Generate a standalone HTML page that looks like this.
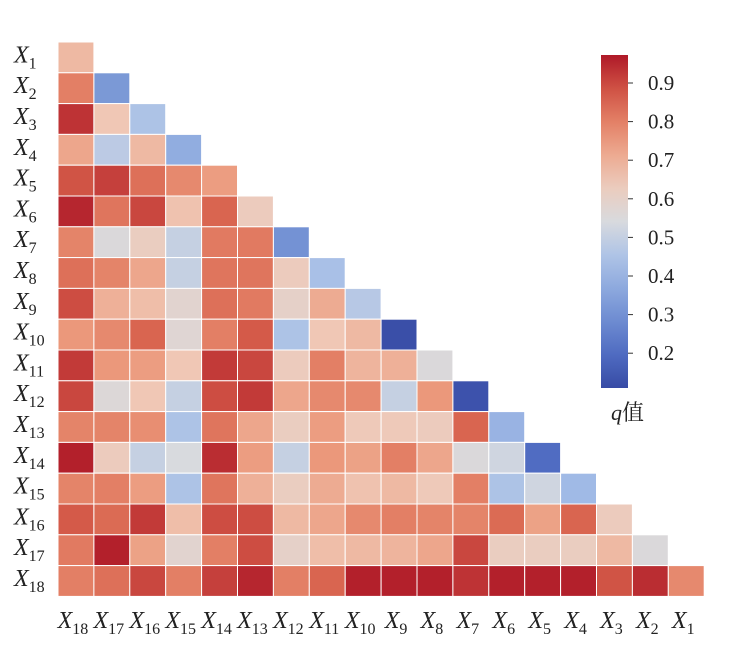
<!DOCTYPE html>
<html><head><meta charset="utf-8"><style>
html,body{margin:0;padding:0;background:#fff;width:738px;height:665px;overflow:hidden}
svg text{font-family:"Liberation Serif","Noto Serif CJK SC",serif;fill:#222}
</style></head><body>
<svg id="s" width="738" height="665" xmlns="http://www.w3.org/2000/svg">
<defs><linearGradient id="cb" x1="0" y1="1" x2="0" y2="0"></linearGradient></defs>
</svg>
<script>
const V=[[0.68],[0.8,0.32],[0.93,0.65,0.45],[0.72,0.48,0.68,0.38],
[0.88,0.91,0.83,0.78,0.74],[0.95,0.82,0.9,0.66,0.85,0.63],
[0.79,0.55,0.62,0.5,0.81,0.81,0.3],[0.83,0.79,0.72,0.5,0.82,0.82,0.63,0.44],
[0.89,0.7,0.67,0.58,0.83,0.81,0.6,0.71,0.47],[0.75,0.78,0.85,0.57,0.8,0.87,0.45,0.65,0.68,0.12],
[0.92,0.75,0.74,0.65,0.92,0.9,0.63,0.8,0.69,0.7,0.55],[0.9,0.56,0.65,0.5,0.89,0.92,0.72,0.78,0.78,0.5,0.75,0.13],
[0.79,0.79,0.77,0.45,0.82,0.72,0.62,0.74,0.64,0.64,0.63,0.85,0.4],
[0.96,0.63,0.5,0.54,0.94,0.74,0.5,0.75,0.73,0.8,0.72,0.55,0.52,0.2],
[0.79,0.8,0.74,0.45,0.82,0.7,0.62,0.71,0.66,0.68,0.64,0.8,0.45,0.52,0.42],
[0.87,0.84,0.92,0.67,0.89,0.89,0.68,0.72,0.78,0.8,0.79,0.79,0.84,0.73,0.85,0.63],
[0.81,0.96,0.73,0.58,0.8,0.89,0.6,0.67,0.68,0.69,0.72,0.9,0.62,0.62,0.62,0.68,0.55],
[0.8,0.83,0.9,0.8,0.91,0.95,0.8,0.85,0.96,0.96,0.96,0.93,0.96,0.96,0.96,0.88,0.94,0.78]];
const S=[[0,[55,75,165]],[0.125,[85,115,200]],[0.25,[125,155,215]],[0.375,[165,190,232]],[0.5,[216,218,222]],[0.625,[240,200,182]],[0.75,[235,150,120]],[0.875,[215,95,75]],[1,[175,25,40]]];
function col(t){t=Math.max(0,Math.min(1,t));for(let i=1;i<S.length;i++){if(t<=S[i][0]){const a=S[i-1],b=S[i],f=(t-a[0])/(b[0]-a[0]);return 'rgb('+a[1].map((c,k)=>Math.round(c+(b[1][k]-c)*f)).join(',')+')';}}}
const vmin=0.11,vmax=0.97;
const s=document.getElementById('s');let h='';
const x0=58,y0=42,w=35.9,hh=30.8;
for(let r=0;r<18;r++)for(let c=0;c<=r;c++){
h+=`<rect x="${x0+c*w}" y="${y0+r*hh}" width="${w}" height="${hh}" fill="${col((V[r][c]-vmin)/(vmax-vmin))}" stroke="#fff" stroke-width="1"/>`;}
function lab(x,y,n,anchor){return `<text x="${x}" y="${y}" font-size="24" font-style="italic" text-anchor="${anchor}">X<tspan font-size="16" font-style="normal" dy="6">${n}</tspan></text>`;}
for(let r=0;r<18;r++){h+=lab(14,y0+r*hh+hh/2+5,r+1,'start');}
for(let c=0;c<18;c++){h+=`<text x="${x0+c*w+w/2-3}" y="628" font-size="24" font-style="italic" text-anchor="middle">X<tspan font-size="16" font-style="normal" dy="6">${18-c}</tspan></text>`;}
let g='';for(let i=0;i<=10;i++){g+=`<stop offset="${i/10}" stop-color="${col(i/10)}"/>`;}
document.getElementById('cb').innerHTML=g;
h+=`<rect x="601" y="55" width="27" height="333" fill="url(#cb)"/>`;
for(let k=2;k<=9;k++){const y=83+(0.9-k/10)*386;h+=`<line x1="628" y1="${y}" x2="633" y2="${y}" stroke="#333"/><text x="648" y="${y+7}" font-size="21">0.${k}</text>`;}
h+=`<text x="611" y="420" font-size="22"><tspan font-style="italic">q</tspan>值</text>`;
s.innerHTML+=h;
</script>
</body></html>
